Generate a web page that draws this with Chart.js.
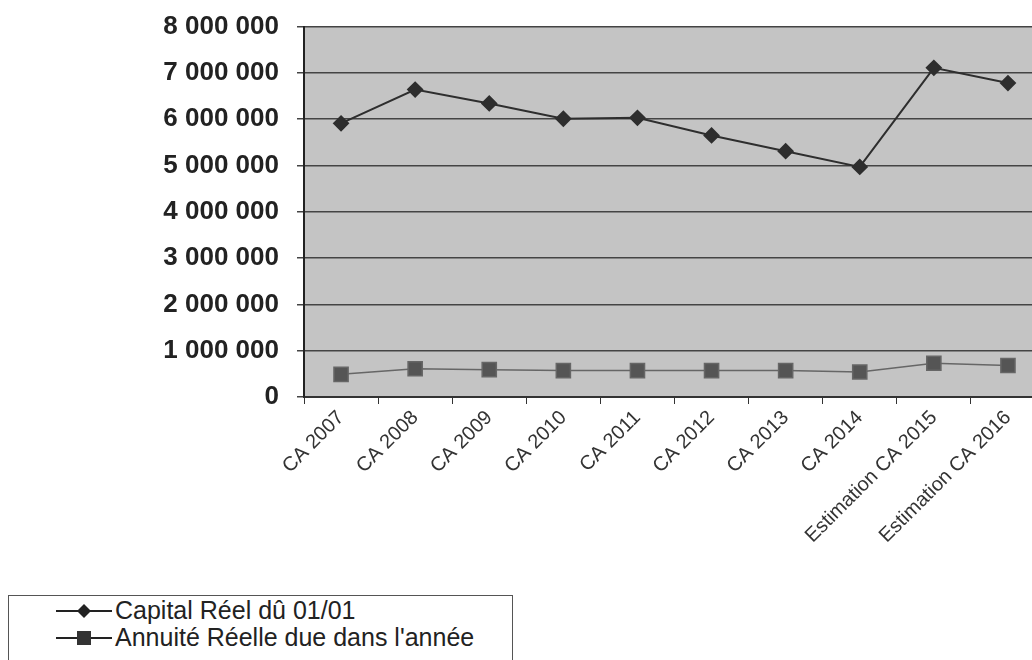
<!DOCTYPE html>
<html>
<head>
<meta charset="utf-8">
<script src="https://cdn.jsdelivr.net/npm/chart.js@4"></script>
<style>
  body { margin: 0; background: #fff; overflow: hidden; width: 1032px; height: 660px; position: relative; }
  #chart { position: absolute; left: 0; top: -7px; }
  #legend {
    position: absolute; left: 8px; top: 595px; width: 503px; height: 90px;
    border: 1.5px solid #555; background: #fff;
    font-family: 'Liberation Sans', Arial, sans-serif; font-size: 25px; color: #222;
  }
  .row { position: absolute; left: 47px; height: 27px; display: flex; align-items: center; }
  .row svg { margin-right: 3px; }
</style>
</head>
<body>
<canvas id="chart" width="1060" height="560"></canvas>
<div id="legend">
  <div class="row" style="top:1px">
    <svg width="56" height="20"><line x1="0" y1="10" x2="56" y2="10" stroke="#222" stroke-width="2"/><path d="M28 3 L35 10 L28 17 L21 10 Z" fill="#222"/></svg>
    <span>Capital Réel dû 01/01</span>
  </div>
  <div class="row" style="top:28px">
    <svg width="56" height="20"><line x1="0" y1="10" x2="56" y2="10" stroke="#222" stroke-width="2"/><rect x="21" y="3" width="14" height="14" fill="#333"/></svg>
    <span>Annuité Réelle due dans l'année</span>
  </div>
</div>
<script>
const categories = ['CA 2007', 'CA 2008', 'CA 2009', 'CA 2010', 'CA 2011', 'CA 2012', 'CA 2013', 'CA 2014', 'Estimation CA 2015', 'Estimation CA 2016'];
const capitalDu = [5910000, 6640000, 6340000, 6010000, 6030000, 5650000, 5310000, 4970000, 7110000, 6780000];
const annuiteDue = [490000, 610000, 590000, 570000, 570000, 570000, 570000, 540000, 730000, 680000];
const yTicks = [0, 1000000, 2000000, 3000000, 4000000, 5000000, 6000000, 7000000, 8000000];

Chart.defaults.font.family = "'Liberation Sans', Arial, sans-serif";

// grey plot background like the old Excel chart
const plotBg = {
  id: 'plotBg',
  beforeDraw(chart) {
    const { ctx, chartArea: a } = chart;
    ctx.save();
    ctx.fillStyle = '#c4c4c4';
    ctx.fillRect(a.left, a.top, a.right - a.left, a.bottom - a.top);
    ctx.restore();
  }
};

const fmt = v => String(v).replace(/\B(?=(\d{3})+(?!\d))/g, ' ');

new Chart(document.getElementById('chart'), {
  type: 'line',
  data: {
    labels: categories,
    datasets: [{
      label: 'Capital Réel dû 01/01',
      data: capitalDu,
      borderColor: '#2e2e2e',
      backgroundColor: '#2e2e2e',
      borderWidth: 2,
      pointStyle: 'rectRot',
      pointRadius: 7,
      tension: 0
    }, {
      label: "Annuité Réelle due dans l'année",
      data: annuiteDue,
      borderColor: '#666',
      backgroundColor: '#555',
      borderWidth: 1.5,
      pointStyle: 'rect',
      pointRadius: 10,
      tension: 0
    }]
  },
  options: {
    responsive: false,
    animation: false,
    layout: { padding: { top: 0, right: 15, left: 0, bottom: 0 } },
    plugins: { legend: { display: false }, tooltip: { enabled: false } },
    scales: {
      x: {
        offset: true,
        grid: { offset: true, drawOnChartArea: false, drawTicks: true, tickLength: 7, color: '#333' },
        border: { color: '#333', width: 2 },
        ticks: { minRotation: 45, maxRotation: 45, autoSkip: false, color: '#333', font: { size: 20 }, padding: 2 },
        afterFit(scale) { scale.height = 560 - 404; }
      },
      y: {
        min: 0,
        max: 8000000,
        afterBuildTicks(scale) { scale.ticks = yTicks.map(v => ({ value: v })); },
        grid: { color: '#444', lineWidth: 1.5, tickLength: 7 },
        border: { color: '#222', width: 2 },
        ticks: { color: '#222', font: { size: 26, weight: 'bold' }, padding: 18, callback: v => fmt(v) },
        afterFit(scale) { scale.width = 304; }
      }
    }
  },
  plugins: [plotBg]
});
</script>
</body>
</html>
